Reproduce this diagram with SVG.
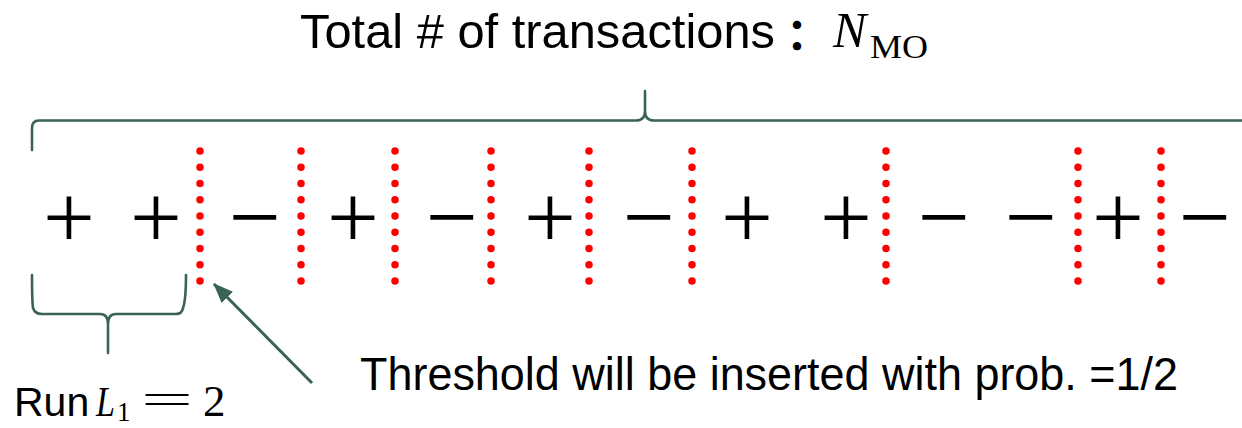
<svg xmlns="http://www.w3.org/2000/svg" width="1242" height="428" viewBox="0 0 1242 428">
<defs>
<style>
.sans{font-family:"Liberation Sans","DejaVu Sans",sans-serif;fill:#000}
.math{font-family:"Liberation Serif","DejaVu Serif",serif;fill:#000}
.it{font-style:italic}
.sym{font-family:"Liberation Serif","DejaVu Serif",serif;font-size:92px;text-anchor:middle;fill:#000}
.dots{stroke:#FF0000;stroke-width:7.5;stroke-linecap:round;stroke-dasharray:0 16.25;fill:none}
.brace{stroke:#3A6355;stroke-width:2.6;fill:none;stroke-linecap:round;stroke-linejoin:round}
</style>
<marker id="ah" markerUnits="userSpaceOnUse" markerWidth="20" markerHeight="16" viewBox="0 0 20 16" refX="19" refY="8" orient="auto">
<path d="M0,0 L20,8 L0,16 Z" fill="#3A6355"/>
</marker>
</defs>
<rect width="1242" height="428" fill="#fff"/>

<g id="title">
<text class="sans" x="300" y="48" font-size="49" textLength="475" lengthAdjust="spacingAndGlyphs">Total # of transactions</text>
<text x="808" y="50" font-size="44" text-anchor="middle" font-family="'Noto Sans CJK SC',sans-serif" font-weight="bold">：</text>
<text class="math it" x="833" y="47" font-size="50">N</text>
<text class="math" x="870" y="58" font-size="33" textLength="58" lengthAdjust="spacingAndGlyphs">MO</text>
</g>

<g id="top-brace">
<path class="brace" d="M32,150 V128 Q32,120.5 39,120.5 H636 Q645,120.5 645,111 V91 M645,111 Q645,120.5 654,120.5 H1250"/>
</g>

<g id="thresholds">
<line class="dots" x1="200" y1="151" x2="200" y2="282"/>
<line class="dots" x1="301" y1="151" x2="301" y2="282"/>
<line class="dots" x1="395" y1="151" x2="395" y2="282"/>
<line class="dots" x1="491" y1="151" x2="491" y2="282"/>
<line class="dots" x1="589" y1="151" x2="589" y2="282"/>
<line class="dots" x1="692" y1="151" x2="692" y2="282"/>
<line class="dots" x1="886" y1="151" x2="886" y2="282"/>
<line class="dots" x1="1078" y1="151" x2="1078" y2="282"/>
<line class="dots" x1="1161" y1="151" x2="1161" y2="282"/>
</g>

<g id="signs">
<text class="sym" x="69" y="248">+</text>
<text class="sym" x="156" y="248">+</text>
<text class="sym" x="255" y="248">−</text>
<text class="sym" x="353" y="248">+</text>
<text class="sym" x="452" y="248">−</text>
<text class="sym" x="550" y="248">+</text>
<text class="sym" x="649" y="248">−</text>
<text class="sym" x="747" y="248">+</text>
<text class="sym" x="846" y="248">+</text>
<text class="sym" x="944" y="248">−</text>
<text class="sym" x="1031" y="248">−</text>
<text class="sym" x="1118" y="248">+</text>
<text class="sym" x="1205" y="248">−</text>
</g>

<g id="run-brace">
<path class="brace" d="M32,275 Q32,300 33,308 Q35,314 42,314 H100 Q108,314 108,324 V353 M108,324 Q108,314 116,314 H176 Q182,314 183,308 Q186,300 186,275"/>
</g>

<g id="run-label">
<text class="sans" x="14" y="416" font-size="41">Run</text>
<text class="math it" x="96" y="416" font-size="42" textLength="19" lengthAdjust="spacingAndGlyphs">L</text>
<text class="math" x="117" y="421" font-size="27">1</text>
<text class="math" x="141" y="413" font-size="42" textLength="52" lengthAdjust="spacingAndGlyphs">=</text>
<text class="math" x="203" y="416" font-size="45">2</text>
</g>

<g id="connectors">
<line x1="312" y1="383" x2="214" y2="284" stroke="#3A6355" stroke-width="3" marker-end="url(#ah)"/>
</g>

<g id="threshold-label">
<text class="sans" x="360" y="390" font-size="47" textLength="818" lengthAdjust="spacingAndGlyphs">Threshold will be inserted with prob. =1/2</text>
</g>
</svg>
